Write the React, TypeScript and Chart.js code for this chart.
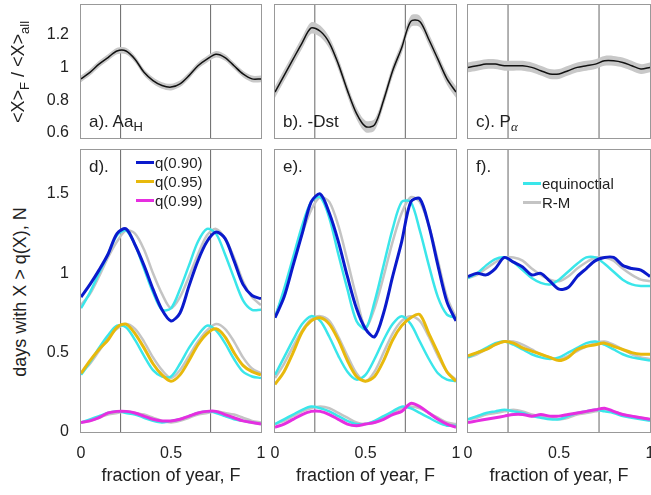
import { useEffect, useRef } from 'react'
import { Chart, registerables } from 'chart.js'

Chart.register(...registerables)

const FONT = '"Liberation Sans", Arial, sans-serif'

// fraction of year
const X = [0, 0.05, 0.1, 0.15, 0.2, 0.25, 0.3, 0.35, 0.4, 0.45, 0.5, 0.55, 0.6, 0.65, 0.7, 0.75, 0.8, 0.85, 0.9, 0.95, 1]
const VLINES = [0.22, 0.72]

// top row: ratio <X>_F / <X>_all
const ratioAa = [0.93, 0.97, 1.02, 1.06, 1.1, 1.1, 1.05, 0.97, 0.92, 0.89, 0.88, 0.9, 0.95, 1.01, 1.05, 1.08, 1.06, 1.01, 0.96, 0.93, 0.93]
const ratioDst = [0.85, 0.95, 1.05, 1.15, 1.24, 1.22, 1.15, 1.02, 0.86, 0.72, 0.64, 0.65, 0.8, 0.98, 1.12, 1.28, 1.28, 1.17, 1.05, 0.93, 0.85]
const ratioP = [1.0, 1.01, 1.02, 1.02, 1.01, 1.01, 1.01, 1.0, 0.98, 0.96, 0.96, 0.98, 1.0, 1.01, 1.02, 1.04, 1.04, 1.03, 1.01, 0.99, 1.0]
const bandAa = 0.02
const bandDst = 0.035
const bandP = 0.03

// bottom row: days with X > q(X)
const dQ90 = [0.85, 0.93, 1.02, 1.12, 1.25, 1.28, 1.18, 1.05, 0.9, 0.77, 0.7, 0.75, 0.92, 1.08, 1.2, 1.26, 1.22, 1.08, 0.93, 0.86, 0.84]
const dQ95 = [0.37, 0.45, 0.52, 0.58, 0.66, 0.68, 0.62, 0.53, 0.43, 0.36, 0.32, 0.36, 0.45, 0.55, 0.62, 0.65, 0.6, 0.5, 0.42, 0.38, 0.36]
const dQ99 = [0.06, 0.07, 0.09, 0.12, 0.13, 0.13, 0.12, 0.1, 0.08, 0.07, 0.07, 0.08, 0.1, 0.12, 0.13, 0.13, 0.11, 0.09, 0.07, 0.06, 0.05]
const dEq = [
  [0.78, 0.88, 1.0, 1.12, 1.24, 1.27, 1.18, 1.03, 0.88, 0.77, 0.78, 0.9, 1.05, 1.2, 1.28, 1.25, 1.12, 0.97, 0.83, 0.77, 0.77],
  [0.36, 0.44, 0.53, 0.61, 0.67, 0.66, 0.58, 0.48, 0.39, 0.35, 0.35, 0.43, 0.53, 0.61, 0.67, 0.64, 0.56, 0.46, 0.38, 0.35, 0.34],
  [0.06, 0.08, 0.1, 0.12, 0.13, 0.12, 0.11, 0.09, 0.07, 0.06, 0.07, 0.08, 0.1, 0.12, 0.13, 0.12, 0.1, 0.08, 0.07, 0.06, 0.05],
]
const dRM = [
  [0.8, 0.87, 0.98, 1.1, 1.2, 1.27, 1.25, 1.15, 1.0, 0.87, 0.78, 0.85, 0.98, 1.12, 1.24, 1.28, 1.22, 1.1, 0.95, 0.85, 0.8],
  [0.37, 0.43, 0.51, 0.59, 0.65, 0.68, 0.65, 0.57, 0.47, 0.39, 0.34, 0.39, 0.48, 0.57, 0.64, 0.68, 0.65, 0.57, 0.47, 0.4, 0.37],
  [0.06, 0.07, 0.09, 0.11, 0.12, 0.13, 0.12, 0.11, 0.09, 0.07, 0.06, 0.07, 0.09, 0.11, 0.12, 0.13, 0.12, 0.11, 0.09, 0.07, 0.06],
]

const eQ90 = [0.72, 0.85, 1.05, 1.25, 1.45, 1.5, 1.38, 1.2, 0.98, 0.78, 0.65, 0.6, 0.75, 0.98, 1.2, 1.45, 1.47, 1.3, 1.05, 0.82, 0.7]
const eQ95 = [0.3, 0.38, 0.5, 0.63, 0.7, 0.72, 0.68, 0.58, 0.45, 0.35, 0.32, 0.35, 0.45, 0.58, 0.67, 0.72, 0.74, 0.62, 0.5, 0.38, 0.32]
const eQ99 = [0.03, 0.05, 0.08, 0.11, 0.13, 0.13, 0.11, 0.08, 0.05, 0.04, 0.05, 0.06, 0.08, 0.11, 0.13, 0.18, 0.16, 0.12, 0.08, 0.05, 0.03]
const eEq = [
  [0.72, 0.9, 1.1, 1.3, 1.45, 1.48, 1.35, 1.12, 0.9, 0.7, 0.65, 0.82, 1.05, 1.28, 1.45, 1.45, 1.27, 1.05, 0.85, 0.74, 0.72],
  [0.36, 0.47, 0.58, 0.68, 0.73, 0.7, 0.6, 0.48, 0.38, 0.33, 0.36, 0.46, 0.58, 0.68, 0.73, 0.68, 0.57, 0.46, 0.37, 0.33, 0.32],
  [0.05, 0.08, 0.11, 0.14, 0.16, 0.15, 0.13, 0.1, 0.07, 0.05, 0.05, 0.07, 0.1, 0.13, 0.16, 0.15, 0.12, 0.09, 0.06, 0.04, 0.04],
]
const eRM = [
  [0.73, 0.88, 1.07, 1.25, 1.4, 1.48, 1.45, 1.3, 1.08, 0.85, 0.66, 0.78, 0.98, 1.2, 1.38, 1.48, 1.45, 1.3, 1.08, 0.85, 0.72],
  [0.34, 0.43, 0.54, 0.64, 0.71, 0.73, 0.7, 0.6, 0.48, 0.37, 0.32, 0.38, 0.5, 0.62, 0.7, 0.73, 0.7, 0.6, 0.48, 0.38, 0.33],
  [0.05, 0.07, 0.1, 0.13, 0.15, 0.16, 0.15, 0.12, 0.09, 0.06, 0.05, 0.06, 0.09, 0.12, 0.15, 0.16, 0.15, 0.12, 0.09, 0.06, 0.05],
]

const fQ90 = [0.98, 1.0, 0.99, 1.03, 1.1, 1.07, 1.04, 0.99, 1.0, 0.95, 0.9, 0.91, 0.98, 1.03, 1.08, 1.1, 1.1, 1.05, 1.03, 1.02, 0.98]
const fQ95 = [0.48, 0.5, 0.52, 0.55, 0.57, 0.56, 0.53, 0.51, 0.49, 0.47, 0.45, 0.47, 0.52, 0.54, 0.55, 0.56, 0.54, 0.52, 0.5, 0.49, 0.49]
const fQ99 = [0.06, 0.07, 0.08, 0.09, 0.1, 0.11, 0.11, 0.1, 0.11, 0.1, 0.1, 0.11, 0.12, 0.13, 0.14, 0.15, 0.13, 0.11, 0.1, 0.09, 0.08]
const fEq = [
  [0.97, 1.0, 1.05, 1.09, 1.1, 1.07, 1.02, 0.97, 0.94, 0.93, 0.96, 1.01, 1.06, 1.1, 1.1, 1.06, 1.01, 0.96, 0.93, 0.92, 0.92],
  [0.47, 0.5, 0.53, 0.56, 0.57, 0.55, 0.52, 0.49, 0.47, 0.46, 0.47, 0.5, 0.53, 0.56, 0.57, 0.55, 0.52, 0.49, 0.47, 0.46, 0.45],
  [0.08, 0.1, 0.12, 0.13, 0.14, 0.13, 0.12, 0.1, 0.09, 0.08, 0.08, 0.1, 0.12, 0.13, 0.14, 0.13, 0.12, 0.1, 0.09, 0.08, 0.07],
]
const fRM = [
  [0.97, 0.99, 1.03, 1.07, 1.1, 1.1, 1.08, 1.03, 0.99, 0.96, 0.95, 0.98, 1.03, 1.07, 1.1, 1.1, 1.08, 1.03, 0.99, 0.96, 0.95],
  [0.47, 0.49, 0.52, 0.55, 0.57, 0.57, 0.55, 0.52, 0.49, 0.47, 0.46, 0.48, 0.51, 0.54, 0.56, 0.57, 0.55, 0.52, 0.49, 0.47, 0.46],
  [0.08, 0.09, 0.11, 0.12, 0.13, 0.14, 0.13, 0.11, 0.1, 0.09, 0.08, 0.09, 0.11, 0.12, 0.13, 0.14, 0.13, 0.11, 0.1, 0.09, 0.08],
]

const TOP_TICKS = [0.6, 0.8, 1, 1.2]
const BOT_TICKS = [0, 0.5, 1, 1.5]
const X_TICKS = [0, 0.5, 1]

const COLS = [
  [81, 261],
  [275, 456],
  [468, 650],
]
const TOP_ROW = [5, 138]
const BOT_ROW = [150, 432]

const BLUE = '#0a1acc'
const YELLOW = '#e8b90c'
const MAGENTA = '#e62ee0'
const CYAN = '#3ae6ea'
const GREY = '#c4c4c4'

const pts = (ys: number[]) => ys.map((y, i) => ({ x: X[i], y }))

function vlineSets(ymin: number, ymax: number) {
  return VLINES.map((v) => ({
    data: [
      { x: v, y: ymin },
      { x: v, y: ymax },
    ],
    borderColor: '#666',
    borderWidth: 1,
    pointRadius: 0,
    tension: 0,
    order: 9,
  }))
}

interface PanelProps {
  col: number
  top: boolean
  datasets: any[]
  ymin: number
  ymax: number
  ticks: number[]
}

const SIDE = 12

function Panel({ col, top, datasets, ymin, ymax, ticks }: PanelProps) {
  const ref = useRef<HTMLCanvasElement>(null)
  const leftW = col === 0 ? 36 : 0
  const bottomH = top ? 0 : 28
  const [x0, x1] = COLS[col]
  const [y0, y1] = top ? TOP_ROW : BOT_ROW
  const w = x1 - x0 + leftW + 2 * SIDE
  const h = y1 - y0 + bottomH

  useEffect(() => {
    if (!ref.current) return
    const noPad = (s: any) => {
      s.paddingTop = 0
      s.paddingBottom = 0
      s.paddingLeft = 0
      s.paddingRight = 0
    }
    const chart = new Chart(ref.current, {
      type: 'line',
      data: { datasets: [...vlineSets(ymin, ymax), ...datasets] },
      options: {
        animation: false,
        responsive: false,
        layout: { padding: { left: SIDE, right: SIDE, top: 0, bottom: 0 } },
        plugins: { legend: { display: false }, tooltip: { enabled: false } },
        scales: {
          x: {
            type: 'linear',
            min: 0,
            max: 1,
            display: !top,
            grid: { display: false },
            border: { display: false },
            afterBuildTicks: (s: any) => {
              s.ticks = X_TICKS.map((value) => ({ value }))
            },
            afterFit: (s: any) => {
              s.height = bottomH
              noPad(s)
            },
            ticks: {
              color: '#222',
              font: { family: FONT, size: 16 },
              padding: 4,
              maxRotation: 0,
              callback: (v: any) => String(v),
            },
          },
          y: {
            min: ymin,
            max: ymax,
            display: col === 0,
            grid: { display: false },
            border: { display: false },
            afterBuildTicks: (s: any) => {
              s.ticks = ticks.map((value) => ({ value }))
            },
            afterFit: (s: any) => {
              s.width = leftW
              noPad(s)
            },
            ticks: { color: '#222', font: { family: FONT, size: 16 }, padding: 4, callback: (v: any) => String(v) },
          },
        },
      },
    })
    return () => chart.destroy()
  }, [])

  return (
    <>
      <canvas
        ref={ref}
        width={w}
        height={h}
        style={{ position: 'absolute', left: x0 - leftW - SIDE, top: y0, width: w, height: h }}
      />
      <div
        style={{
          position: 'absolute',
          left: x0 - 1,
          top: y0 - 1,
          width: x1 - x0,
          height: y1 - y0,
          border: '1px solid #999',
          pointerEvents: 'none',
        }}
      />
    </>
  )
}

function topSets(vals: number[], band: number) {
  return [
    {
      data: pts(vals.map((v) => v + band)),
      borderColor: 'rgba(0,0,0,0)',
      pointRadius: 0,
      tension: 0.3,
      fill: false,
      order: 8,
    },
    {
      data: pts(vals.map((v) => v - band)),
      borderColor: 'rgba(0,0,0,0)',
      backgroundColor: '#c8c8c8',
      pointRadius: 0,
      tension: 0.3,
      fill: '-1',
      order: 7,
    },
    { data: pts(vals), borderColor: '#111', borderWidth: 1.5, pointRadius: 0, tension: 0.3, order: 0 },
  ]
}

function botSets(q90: number[], q95: number[], q99: number[], eq: number[][], rm: number[][]) {
  const line = (ys: number[], c: string, bw: number, order: number) => ({
    data: pts(ys),
    borderColor: c,
    borderWidth: bw,
    pointRadius: 0,
    tension: 0.3,
    order,
  })
  return [
    ...rm.map((r) => line(r, GREY, 2.5, 5)),
    ...eq.map((e) => line(e, CYAN, 2.5, 4)),
    line(q99, MAGENTA, 3, 3),
    line(q95, YELLOW, 3, 2),
    line(q90, BLUE, 3, 1),
  ]
}

const label: React.CSSProperties = { position: 'absolute', fontFamily: FONT, fontSize: 17, color: '#222', whiteSpace: 'nowrap' }

function LegendRow({ x, y, color, text }: { x: number; y: number; color: string; text: string }) {
  return (
    <div style={{ ...label, left: x, top: y, fontSize: 15, display: 'flex', alignItems: 'center' }}>
      <span style={{ display: 'inline-block', width: 18, height: 3, background: color, marginRight: 1 }} />
      {text}
    </div>
  )
}

export default function App() {
  return (
    <div style={{ position: 'fixed', left: 0, top: 0, width: 651, height: 495, background: '#fff', overflow: 'hidden' }}>
      <Panel col={0} top datasets={topSets(ratioAa, bandAa)} ymin={0.57} ymax={1.38} ticks={TOP_TICKS} />
      <Panel col={1} top datasets={topSets(ratioDst, bandDst)} ymin={0.57} ymax={1.38} ticks={TOP_TICKS} />
      <Panel col={2} top datasets={topSets(ratioP, bandP)} ymin={0.57} ymax={1.38} ticks={TOP_TICKS} />
      <Panel col={0} top={false} datasets={botSets(dQ90, dQ95, dQ99, dEq, dRM)} ymin={0} ymax={1.777} ticks={BOT_TICKS} />
      <Panel col={1} top={false} datasets={botSets(eQ90, eQ95, eQ99, eEq, eRM)} ymin={0} ymax={1.777} ticks={BOT_TICKS} />
      <Panel col={2} top={false} datasets={botSets(fQ90, fQ95, fQ99, fEq, fRM)} ymin={0} ymax={1.777} ticks={BOT_TICKS} />

      <div style={{ ...label, left: 89, top: 112 }}>
        a). Aa<sub style={{ fontSize: 13 }}>H</sub>
      </div>
      <div style={{ ...label, left: 283, top: 112 }}>b). -Dst</div>
      <div style={{ ...label, left: 476, top: 112 }}>
        c). P<sub style={{ fontSize: 13, fontStyle: 'italic', fontFamily: 'serif' }}>α</sub>
      </div>
      <div style={{ ...label, left: 89, top: 157 }}>d).</div>
      <div style={{ ...label, left: 283, top: 157 }}>e).</div>
      <div style={{ ...label, left: 476, top: 157 }}>f).</div>

      <LegendRow x={136} y={154} color={BLUE} text="q(0.90)" />
      <LegendRow x={136} y={173} color={YELLOW} text="q(0.95)" />
      <LegendRow x={136} y={192} color={MAGENTA} text="q(0.99)" />
      <LegendRow x={523} y={175} color={CYAN} text="equinoctial" />
      <LegendRow x={523} y={194} color={GREY} text="R-M" />

      <div
        style={{
          ...label,
          fontSize: 18,
          left: 20,
          top: 72,
          transform: 'translate(-50%, -50%) rotate(-90deg)',
        }}
      >
        &lt;X&gt;<sub style={{ fontSize: 13 }}>F</sub> / &lt;X&gt;<sub style={{ fontSize: 13 }}>all</sub>
      </div>
      <div
        style={{
          ...label,
          fontSize: 18,
          left: 20,
          top: 292,
          transform: 'translate(-50%, -50%) rotate(-90deg)',
        }}
      >
        days with X &gt; q(X), N
      </div>

      {COLS.map(([a, b], i) => (
        <div key={i} style={{ ...label, fontSize: 18, left: (a + b) / 2, top: 465, transform: 'translateX(-50%)' }}>
          fraction of year, F
        </div>
      ))}
    </div>
  )
}
